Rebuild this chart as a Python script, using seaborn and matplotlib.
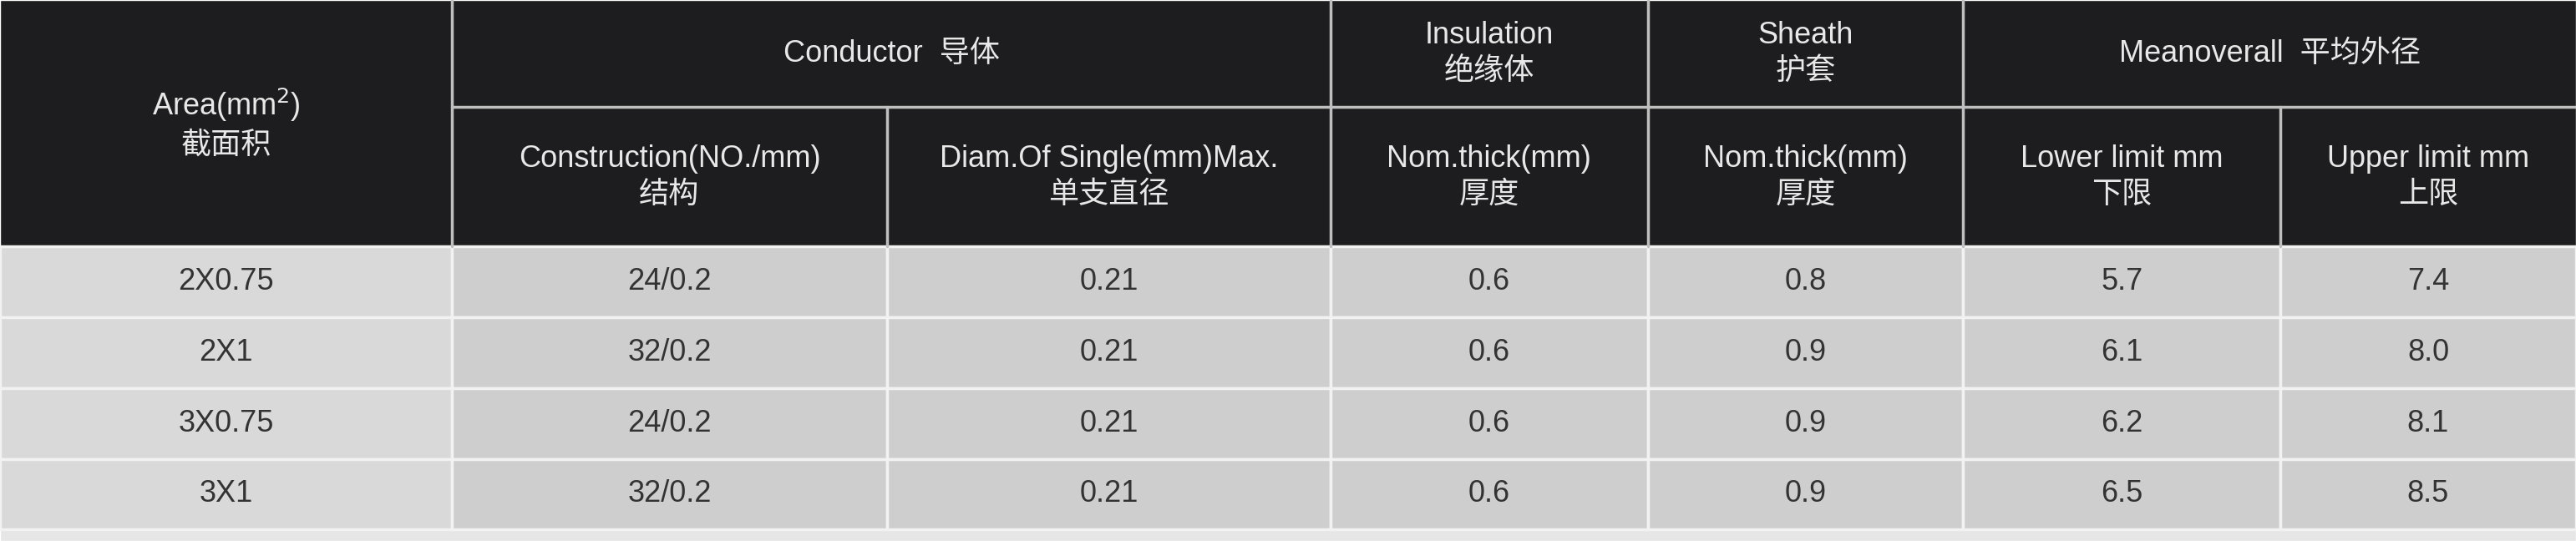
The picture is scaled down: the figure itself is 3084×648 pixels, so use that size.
import matplotlib
matplotlib.use("Agg")
import matplotlib.pyplot as plt
import seaborn as sns

sns.set_theme(style="white")
plt.rcParams['font.family'] = ['Liberation Sans', 'Noto Sans CJK SC', 'DejaVu Sans']

areas = ["2X0.75", "2X1", "3X0.75", "3X1"]
construction = ["24/0.2", "32/0.2", "24/0.2", "32/0.2"]
diam_single = ["0.21", "0.21", "0.21", "0.21"]
insulation = ["0.6", "0.6", "0.6", "0.6"]
sheath = ["0.8", "0.9", "0.9", "0.9"]
lower_limit = ["5.7", "6.1", "6.2", "6.5"]
upper_limit = ["7.4", "8.0", "8.1", "8.5"]

group_headers = [("Area(mm$^2$)\n截面积", 0, 1), ("Conductor  导体", 1, 3),
                 ("Insulation\n绝缘体", 3, 4), ("Sheath\n护套", 4, 5),
                 ("Meanoverall  平均外径", 5, 7)]
sub_headers = ["Construction(NO./mm)\n结构", "Diam.Of Single(mm)Max.\n单支直径",
               "Nom.thick(mm)\n厚度", "Nom.thick(mm)\n厚度",
               "Lower limit mm\n下限", "Upper limit mm\n上限"]

cols = [0, 275, 540, 810, 1003, 1195, 1388, 1568]
W, H = 1568, 329
hdr1, hdr2 = 65, 150
row_edges = [150, 193, 236, 279, 322]
FS = 26

fig = plt.figure(figsize=(30.84, 6.48), dpi=100)
ax = fig.add_axes([0, 0, 1, 1])
ax.set_xlim(0, W)
ax.set_ylim(H, 0)
ax.axis("off")

dark = "#1d1d1f"
ax.barh(hdr2 / 2, W, height=hdr2, left=0, color=dark)
ax.barh((hdr2 + H) / 2, W, height=H - hdr2, left=0, color="#e6e6e6")
data = list(zip(areas, construction, diam_single, insulation, sheath, lower_limit, upper_limit))
for r, vals in enumerate(data):
    y0, y1 = row_edges[r], row_edges[r + 1]
    for c, v in enumerate(vals):
        col = "#d9d9d9" if c == 0 else "#cecece"
        ax.barh((y0 + y1) / 2, cols[c + 1] - cols[c], height=y1 - y0, left=cols[c],
                color=col, edgecolor="#f2f2f2", linewidth=2.5)
        ax.text((cols[c] + cols[c + 1]) / 2, (y0 + y1) / 2, v, ha="center", va="center",
                fontsize=FS, color="#333333")

lc = "#bfbfbf"
for t, a, b in group_headers:
    y = hdr2 / 2 if a == 0 else hdr1 / 2
    ax.text((cols[a] + cols[b]) / 2, y, t, ha="center", va="center", fontsize=FS,
            color="#e8e8e8", linespacing=1.3)
for i, t in enumerate(sub_headers):
    ax.text((cols[i + 1] + cols[i + 2]) / 2, (hdr1 + hdr2) / 2, t, ha="center", va="center",
            fontsize=FS, color="#e8e8e8", linespacing=1.3)
for x in [275, 810, 1003, 1195]:
    ax.plot([x, x], [0, hdr2], color=lc, lw=2.5)
for x in [540, 1388]:
    ax.plot([x, x], [hdr1, hdr2], color=lc, lw=2.5)
ax.plot([275, W], [hdr1, hdr1], color=lc, lw=2.5)

fig.savefig("out.png", dpi=100)
